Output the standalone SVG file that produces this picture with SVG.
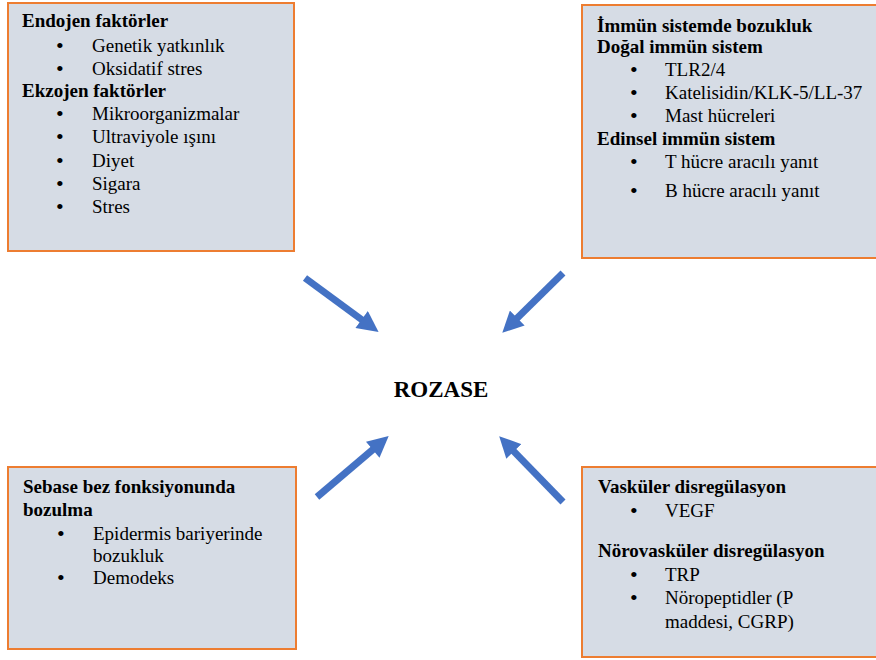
<svg xmlns="http://www.w3.org/2000/svg" width="876" height="660" viewBox="0 0 876 660">
<defs>
<style>
.box{fill:#d6dce5;stroke:#ed7d31;stroke-width:2}
text{font-family:'Liberation Serif','DejaVu Serif',serif;font-size:19px;fill:#000}
.h{font-weight:bold}
.b{font-size:22px}
.title{font-weight:bold;font-size:23px}
.arr{stroke:#4472c4;stroke-width:7;fill:none;marker-end:url(#ah)}
</style>
<marker id="ah" viewBox="0 0 10 10" refX="0.5" refY="5" markerWidth="3.1" markerHeight="3" orient="auto" markerUnits="strokeWidth">
<path d="M0,0 L10,5 L0,10 z" fill="#4472c4"/>
</marker>
</defs>
<rect width="876" height="660" fill="#fff"/>
<g id="box-endo-ekzo">
<rect class="box" x="8" y="3" width="286" height="248"/>
<text class="h" x="22" y="27">Endojen faktörler</text>
<text class="b" x="56" y="53">•</text><text x="92" y="52">Genetik yatkınlık</text>
<text class="b" x="56" y="76">•</text><text x="92" y="75">Oksidatif stres</text>
<text class="h" x="22" y="97">Ekzojen faktörler</text>
<text class="b" x="56" y="121">•</text><text x="92" y="120">Mikroorganizmalar</text>
<text class="b" x="56" y="144">•</text><text x="92" y="143">Ultraviyole ışını</text>
<text class="b" x="56" y="168">•</text><text x="92" y="167">Diyet</text>
<text class="b" x="56" y="191">•</text><text x="92" y="190">Sigara</text>
<text class="b" x="56" y="214">•</text><text x="92" y="213">Stres</text>
</g>
<g id="box-immun">
<rect class="box" x="582" y="5" width="296" height="253"/>
<text class="h" x="597" y="32">İmmün sistemde bozukluk</text>
<text class="h" x="597" y="53">Doğal immün sistem</text>
<text class="b" x="630" y="77">•</text><text x="665" y="76">TLR2/4</text>
<text class="b" x="630" y="100">•</text><text x="665" y="99">Katelisidin/KLK-5/LL-37</text>
<text class="b" x="630" y="123">•</text><text x="665" y="122">Mast hücreleri</text>
<text class="h" x="597" y="145">Edinsel immün sistem</text>
<text class="b" x="630" y="169">•</text><text x="665" y="168">T hücre aracılı yanıt</text>
<text class="b" x="630" y="198">•</text><text x="665" y="197">B hücre aracılı yanıt</text>
</g>
<g id="box-sebase">
<rect class="box" x="8" y="467" width="288" height="182"/>
<text class="h" x="23" y="493">Sebase bez fonksiyonunda</text>
<text class="h" x="23" y="516">bozulma</text>
<text class="b" x="57" y="541">•</text><text x="93" y="540">Epidermis bariyerinde</text>
<text x="93" y="562">bozukluk</text>
<text class="b" x="57" y="585">•</text><text x="93" y="584">Demodeks</text>
</g>
<g id="box-vaskuler">
<rect class="box" x="582" y="467" width="296" height="190"/>
<text class="h" x="598" y="493">Vasküler disregülasyon</text>
<text class="b" x="630" y="518">•</text><text x="665" y="517">VEGF</text>
<text class="h" x="598" y="557">Nörovasküler disregülasyon</text>
<text class="b" x="630" y="582">•</text><text x="665" y="581">TRP</text>
<text class="b" x="630" y="605">•</text><text x="665" y="604">Nöropeptidler (P</text>
<text x="665" y="628">maddesi, CGRP)</text>
</g>
<g id="rozase">
<text class="title" x="441" y="397" text-anchor="middle">ROZASE</text>
</g>
<g id="connectors">
<path class="arr" d="M305,278 L362.5,320.2"/>
<path class="arr" d="M563,273 L516.5,318.8"/>
<path class="arr" d="M317,497 L373.5,449"/>
<path class="arr" d="M563,502 L513.1,450.6"/>
</g>
</svg>
